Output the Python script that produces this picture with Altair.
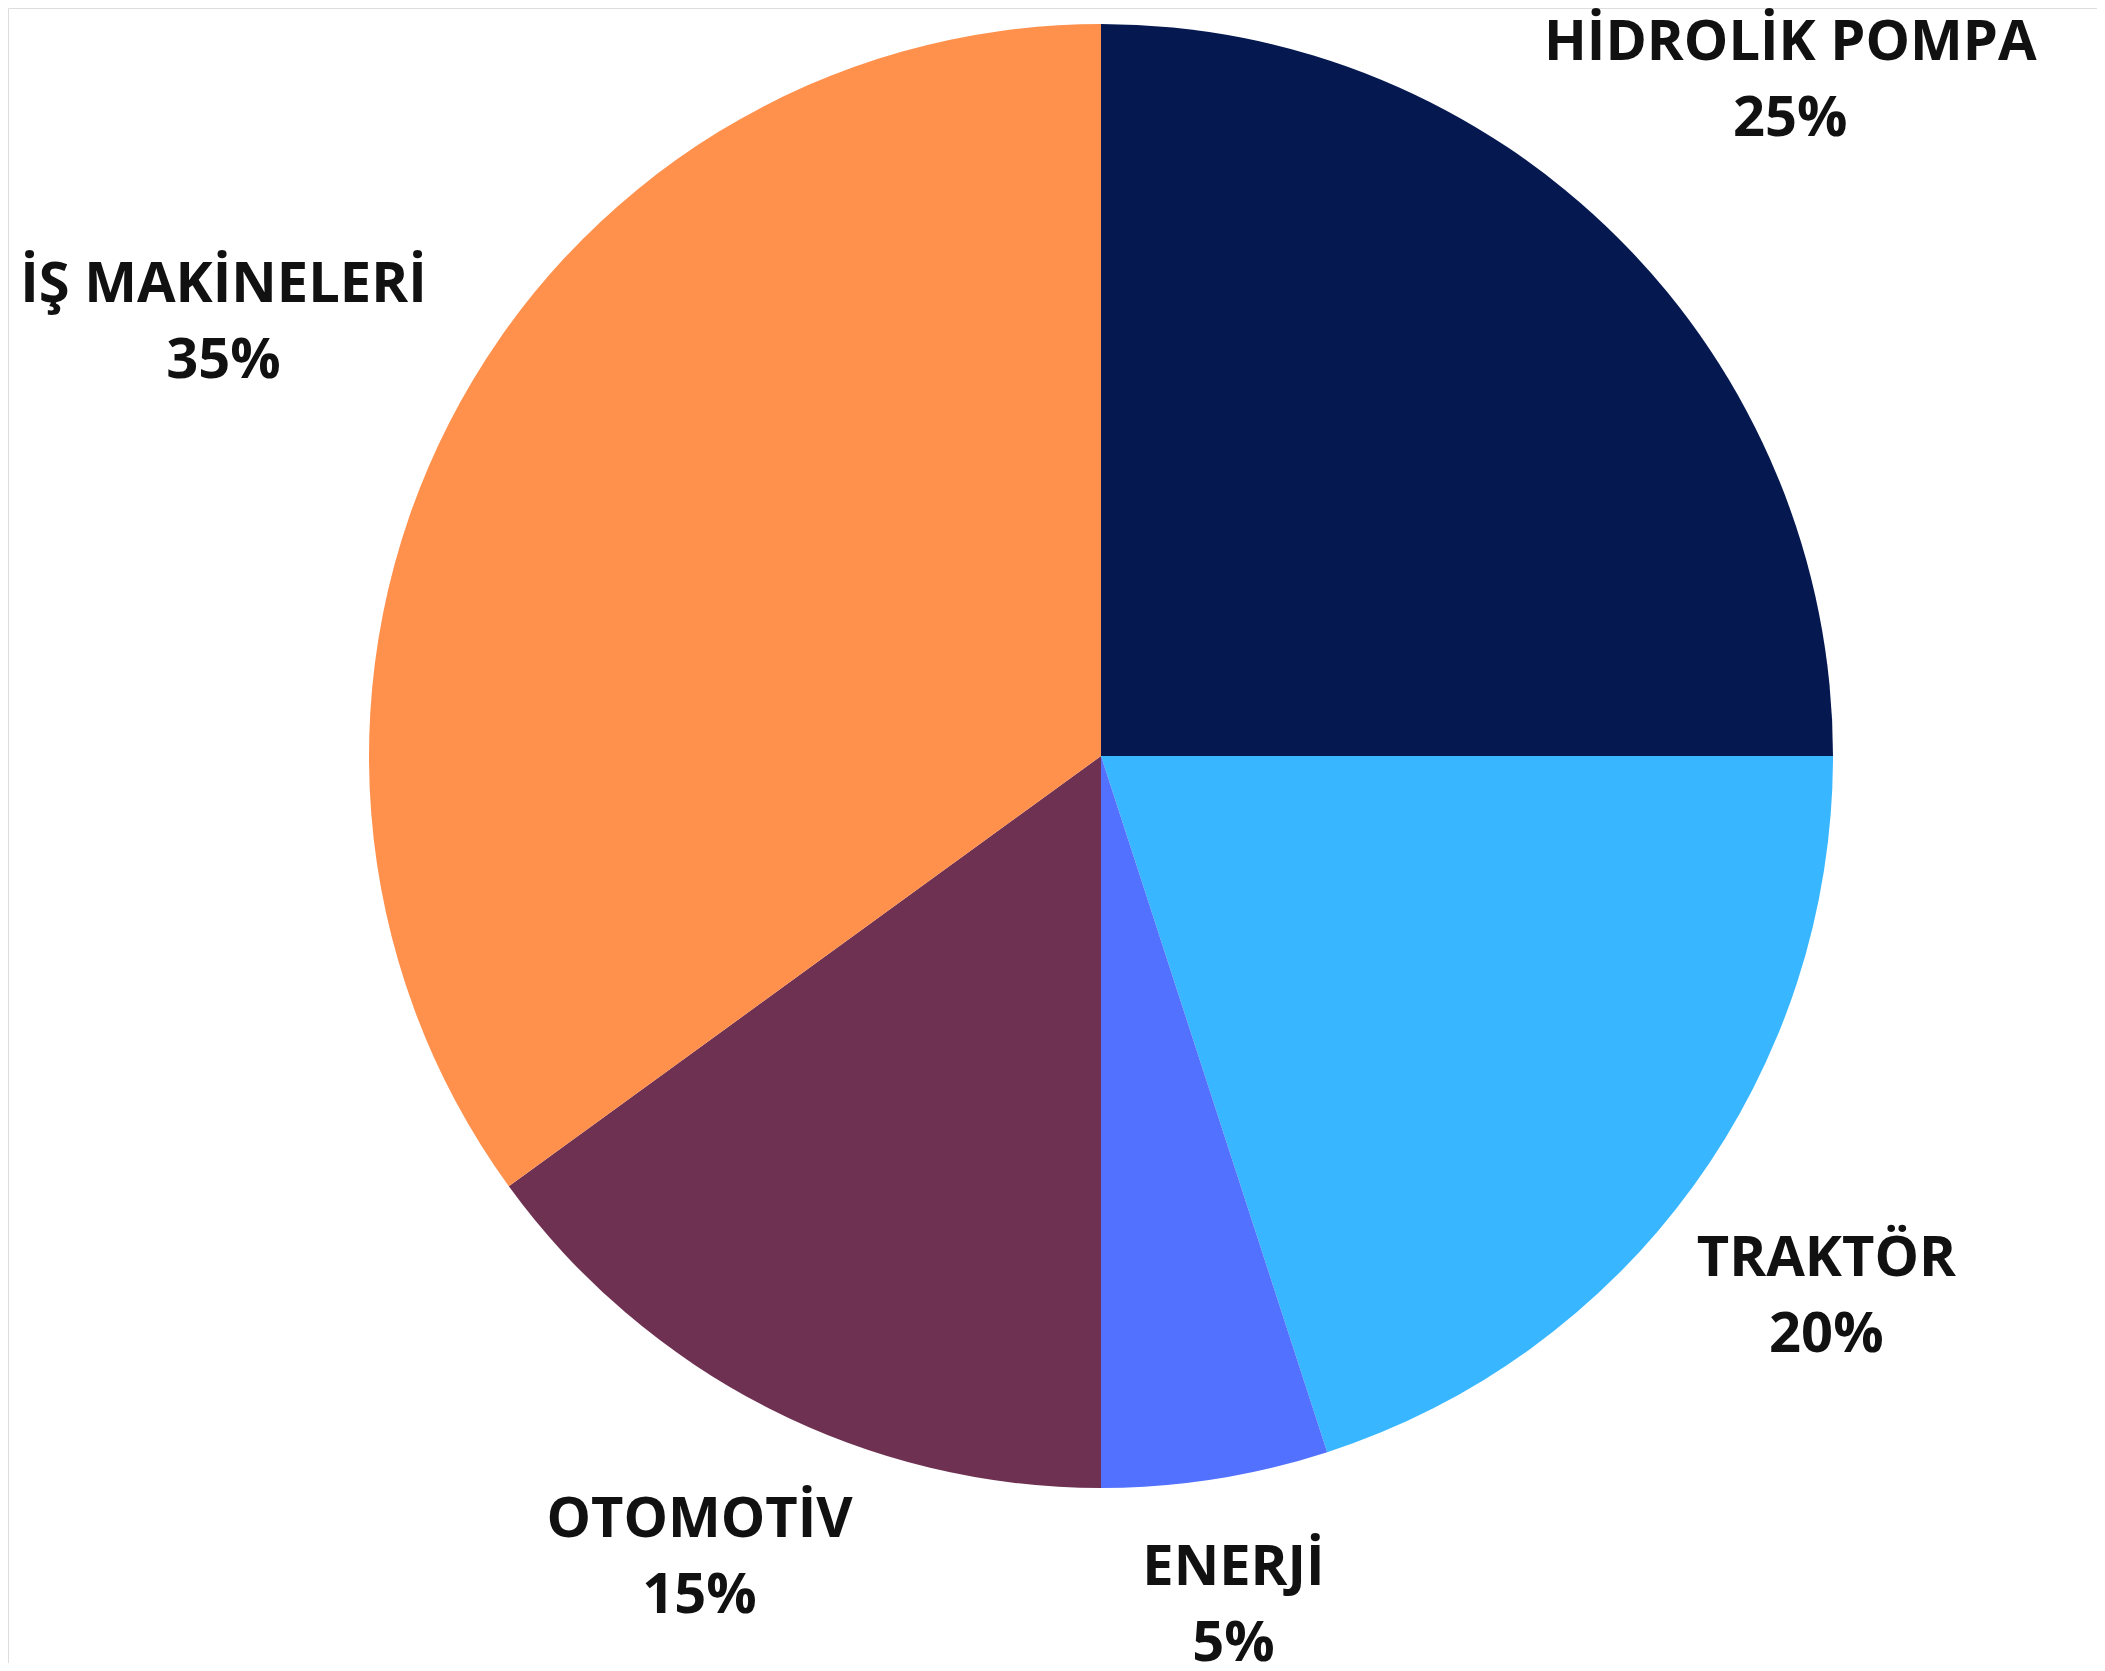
import math
import altair as alt
import pandas as pd

# ---- data ----
categories = ["HİDROLİK POMPA", "TRAKTÖR", "ENERJİ", "OTOMOTİV", "İŞ MAKİNELERİ"]
shares = [25, 20, 5, 15, 35]
colors = ["#051850", "#38B6FF", "#5271FF", "#6E3152", "#FF914D"]

# ---- layout ----
W, H = 2089, 1655
CX, CY = 1093, 748
R = 732
FONT = "Open Sans"
FS = 56
LH = 76
GAP = 30          # distance between pie edge and nearest corner of the label box
CHAR_W = 33       # approximate width of one character at FS
BOX_H = 140

df = pd.DataFrame({"category": categories, "share": shares})
df["order"] = range(len(df))
df["label"] = [f"{c}\n{s}%" for c, s in zip(categories, shares)]
total = sum(shares)
cum = 0
mids = []
for s in shares:
    mids.append((cum + s / 2) / total * 2 * math.pi)
    cum += s
df["mid"] = mids
lr = []
for c, a in zip(categories, mids):
    w = len(c) * CHAR_W
    lr.append(R + GAP + 0.5 * abs(w * math.sin(a)) + 0.5 * abs(BOX_H * math.cos(a)))
df["lr"] = lr

pie = alt.Chart(df).mark_arc(radius=R, stroke=None).encode(
    theta=alt.Theta("share:Q", stack=True),
    order=alt.Order("order:O"),
    x=alt.value(CX),
    y=alt.value(CY),
    color=alt.Color("category:N", scale=alt.Scale(domain=categories, range=colors), legend=None),
)

labels = alt.Chart(df).mark_text(
    font=FONT, fontSize=FS, fontWeight="bold", color="#111111",
    align="center", baseline="middle", lineBreak="\n", lineHeight=LH, dy=-LH / 2 + 14,
).encode(
    theta=alt.Theta("mid:Q", scale=None, stack=False),
    radius=alt.Radius("lr:Q", scale=None),
    x=alt.value(CX),
    y=alt.value(CY),
    text="label:N",
)

chart = alt.layer(pie, labels).resolve_scale(theta="independent").properties(
    width=W, height=H, padding=0, autosize=alt.AutoSizeParams(type="none")
).configure_view(stroke=None).configure(background="white")

chart.save("out.html", embed_options={"renderer": "svg", "actions": False})
